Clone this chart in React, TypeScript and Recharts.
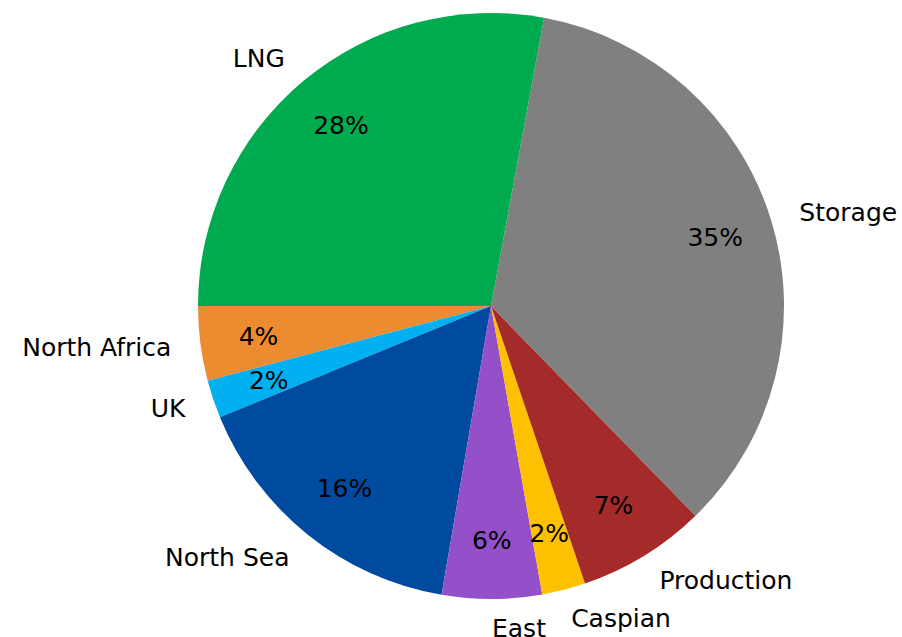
import * as React from 'react';
import {PieChart, Pie, Cell} from "recharts";

// counterclockwise from 9 o'clock
const regions = ["North Africa", "UK", "North Sea", "East", "Caspian", "Production", "Storage", "LNG"];
const shares = [4.1, 2.1, 16.1, 5.5, 2.4, 7.1, 34.8, 27.9];
const colors = ["#ED8B30", "#00B0F0", "#004B9F", "#9350C8", "#FFC000", "#A52A2A", "#808080", "#00AA4E"];

const data = regions.map((name, i) => ({name, value: shares[i]}));

const RADIAN = Math.PI / 180;
const FONT = "'DejaVu Sans', sans-serif";

const renderLabel = (props: any) => {
    const {cx, cy, midAngle, outerRadius, percent, name} = props;
    const cos = Math.cos(-midAngle * RADIAN);
    const sin = Math.sin(-midAngle * RADIAN);
    const lx = cx + outerRadius * 1.1 * cos;
    const ly = cy + outerRadius * 1.1 * sin;
    const px = cx + outerRadius * 0.8 * cos;
    const py = cy + outerRadius * 0.8 * sin;
    return (
        <g>
            <text x={lx} y={ly} fill="#000" fontSize={25} fontFamily={FONT}
                  textAnchor={cos >= 0 ? "start" : "end"} dominantBaseline="central">
                {name}
            </text>
            <text x={px} y={py} fill="#000" fontSize={25} fontFamily={FONT}
                  textAnchor="middle" dominantBaseline="central">
                {(percent * 100).toFixed(0) + "%"}
            </text>
        </g>
    );
};

export default function App() {
    return (
        <div style={{position: "absolute", left: 0, top: 0, background: "#fff"}}>
            <PieChart width={902} height={637} margin={{top: 0, right: 0, bottom: 0, left: 0}}>
                <Pie data={data}
                     dataKey="value"
                     nameKey="name"
                     cx={491}
                     cy={306}
                     outerRadius={293}
                     startAngle={180}
                     endAngle={540}
                     stroke="none"
                     label={renderLabel}
                     labelLine={false}
                     isAnimationActive={false}
                >
                    {data.map((d, i) => <Cell key={d.name} fill={colors[i]}/>)}
                </Pie>
            </PieChart>
        </div>
    );
}
